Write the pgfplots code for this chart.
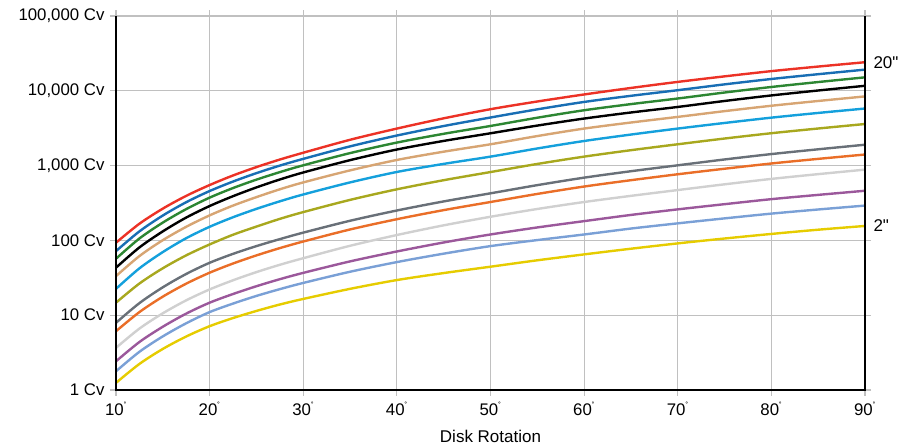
\documentclass[border=0pt]{standalone}
\usepackage{fontspec}
\setmainfont{Liberation Sans}
\usepackage{pgfplots}
\usepackage{pgfplotstable}
\pgfplotsset{compat=1.18}
\definecolor{cRed}{RGB}{236,50,38}
\definecolor{cBlue}{RGB}{24,110,180}
\definecolor{cGreen}{RGB}{44,134,50}
\definecolor{cBlack}{RGB}{0,0,0}
\definecolor{cTan}{RGB}{215,165,115}
\definecolor{cCyan}{RGB}{20,160,220}
\definecolor{cOlive}{RGB}{168,168,30}
\definecolor{cGray}{RGB}{105,112,120}
\definecolor{cOrange}{RGB}{234,110,40}
\definecolor{cLGray}{RGB}{208,208,208}
\definecolor{cPurple}{RGB}{155,88,155}
\definecolor{cLBlue}{RGB}{122,160,214}
\definecolor{cYellow}{RGB}{230,204,0}
\definecolor{gridc}{RGB}{192,192,192}
\pgfplotstableread{
x     a      b      c      d      e      f      g      h      i      j      k      l      m
10    93.1   71.9   56.9   43.2   33.3   22.5   14.7   7.91   6.11   3.66   2.42   1.78   1.245
12.5  167    132    106    80.5   61.7   42.3   26.5   14.5   11.0   6.62   4.38   3.24   2.23
15    266    215    173    132    100.7  69.8   42.4   23.6   17.7   10.6   7.01   5.21   3.54
17.5  394    324    262    202    152    107    63.1   35.6   26.4   15.8   10.5   7.80   5.19
20    549.5  457    373    288    216    152    88.3   50.2   37.0   22.1   14.7   11.0   7.13
22.5  738    612    501    390    292    204    119    66.1   49.1   29.3   19.2   14.3   9.16
25    955    793    649    511    379    264    153    83.9   63.0   37.7   24.4   18.1   11.4
27.5  1205   1000   818    652    482    333    194    104    78.9   47.2   30.3   22.3   13.9
30    1486   1230   1009   809    596    411    239    127    96.6   57.8   36.8   27.0   16.5
35    2213   1807   1469   1183   863    596    348    183    140    84.7   52.4   38.1   22.5
40    3126   2523   2032   1641   1189   822    482    251    192    118    71.1   51.3   29.5
45    4285   3381   2661   2138   1535   1054   638    332    254    159    93.8   66.5   36.6
50    5675   4395   3388   2704   1928   1318   820    426    326    207    120    83.9   44.5
55    7194   5649   4365   3428   2483   1694   1052   548    418    263    149    101    54.2
60    8933   7096   5495   4256   3126   2133   1318   690    525    326    181    120    65.0
65    10914  8570   6637   5129   3767   2600   1607   841    638    394    219    144    77.4
70    13150  10186  7889   6081   4477   3126   1928   1009   766    471    260    169    91.2
75    15596  12190  9484   7311   5346   3715   2301   1208   908    562    305    197    106
80    18323  14388  11246  8670   6310   4375   2710   1426   1067   664    356    228    122
85    21086  16672  13092  10093  7311   5058   3133   1652   1230   769    406    259    139
90    24100  19187  15136  11668  8414   5794   3597   1901   1406   883    461    292    156
}\data
\begin{document}
\begin{tikzpicture}
\begin{axis}[
  scale only axis,
  width=749pt, height=374pt,
  at={(0,0)}, anchor=south west,
  xmin=10, xmax=90, ymin=1, ymax=100000,
  ymode=log,
  xtick={10,20,30,40,50,60,70,80,90},
  xticklabels={10\textsuperscript{\footnotesize˚},20\textsuperscript{\footnotesize˚},30\textsuperscript{\footnotesize˚},40\textsuperscript{\footnotesize˚},50\textsuperscript{\footnotesize˚},60\textsuperscript{\footnotesize˚},70\textsuperscript{\footnotesize˚},80\textsuperscript{\footnotesize˚},90\textsuperscript{\footnotesize˚}},
  ytick={1,10,100,1000,10000,100000},
  yticklabels={1 Cv,10 Cv,100 Cv,{1,000 Cv},{10,000 Cv},{100,000 Cv}},
  minor ytick={},
  log basis y=10,
  grid=major,
  grid style={gridc, line width=1.2pt},
  tick style={gridc, line width=1.2pt},
  tick align=outside,
  major tick length=6pt,
  axis line style={gridc, line width=1.2pt},
  ticklabel style={font=\fontsize{16.8}{19}\selectfont, text=black},
  xticklabel style={yshift=-3pt},
  yticklabel style={xshift=-2pt},
  xlabel={Disk Rotation},
  xlabel style={font=\fontsize{17}{20}\selectfont, yshift=-8pt},
  clip=false,
  every axis plot/.append style={line width=2.4pt, smooth, no markers},
]
\addplot[cYellow] table[x=x,y=m]{\data} node[pos=1, right, xshift=4pt, font=\fontsize{17}{20}\selectfont, text=black]{2\textquotedbl};
\addplot[cLBlue] table[x=x,y=l]{\data};
\addplot[cPurple] table[x=x,y=k]{\data};
\addplot[cLGray] table[x=x,y=j]{\data};
\addplot[cOrange] table[x=x,y=i]{\data};
\addplot[cGray] table[x=x,y=h]{\data};
\addplot[cOlive] table[x=x,y=g]{\data};
\addplot[cCyan] table[x=x,y=f]{\data};
\addplot[cTan] table[x=x,y=e]{\data};
\addplot[cBlack] table[x=x,y=d]{\data};
\addplot[cGreen] table[x=x,y=c]{\data};
\addplot[cBlue] table[x=x,y=b]{\data};
\addplot[cRed] table[x=x,y=a]{\data} node[pos=1, right, xshift=4pt, font=\fontsize{17}{20}\selectfont, text=black]{20\textquotedbl};
\draw[black, line width=2pt] (rel axis cs:0,1) -- (rel axis cs:0,0) -- (rel axis cs:1,0) -- (rel axis cs:1,1);
\end{axis}
\pgfresetboundingbox
\path (-116pt,-56pt) rectangle (797pt,390pt);
\end{tikzpicture}
\end{document}
